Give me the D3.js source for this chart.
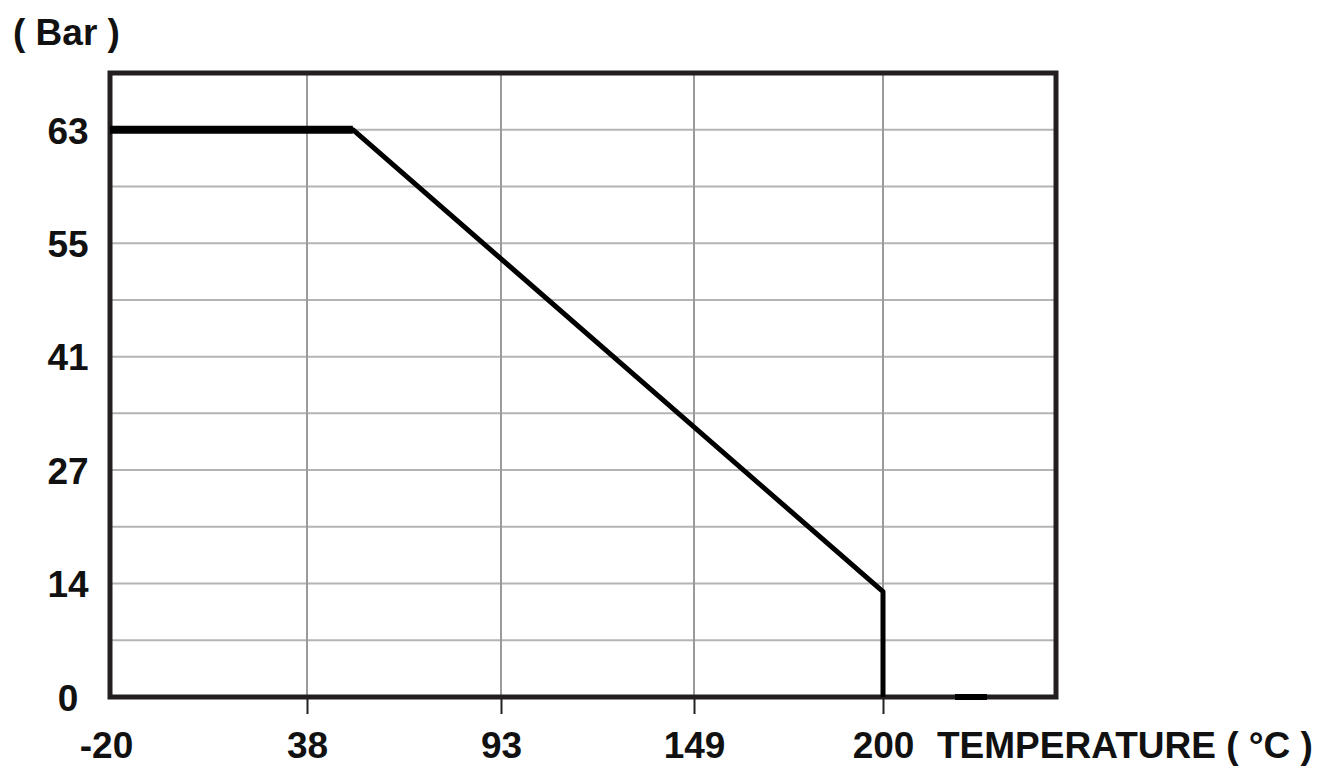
<!DOCTYPE html>
<svg width="1326" height="766"></svg>
<script src="https://d3js.org/d3.v7.min.js"></script>
<style>
    body {
        margin: 0;
        background: #fff;
    }

    text {
        font-family: "Liberation Sans", Arial, sans-serif;
        font-weight: bold;
        font-size: 37px;
        fill: #111;
    }
</style>
<script>
    // tick values (axes are evenly spaced per tick, not linear)
    var xTicks = [-20, 38, 93, 149, 200];
    var yTicks = [0, 14, 27, 41, 55, 63];

    // pressure / temperature rating curve
    var temps = [-20, 51, 200, 200];
    var pressures = [63, 63, 13, 0];

    var svg = d3.select("svg"),
        margin = { top: 73, left: 110 },
        width = 946,
        height = 624,
        g = svg.append("g").attr("transform", "translate(" + margin.left + "," + margin.top + ")");

    var x = d3.scaleLinear()
        .domain(xTicks)
        .range([0, 197, 391, 584, 773]);

    var yStep = height / 11;
    var y = d3.scaleLinear()
        .domain(yTicks)
        .range(yTicks.map(function (d, i) { return height - i * 2 * yStep; }));

    // horizontal grid: every tick plus half steps
    var gridY = [];
    for (var i = 1; i < 11; i++) gridY.push(height - i * yStep);
    g.selectAll(".hgrid").data(gridY).enter().append("line")
        .attr("x1", 0).attr("x2", width)
        .attr("y1", function (d) { return d; })
        .attr("y2", function (d) { return d; })
        .attr("stroke", "#b4b4b4")
        .attr("stroke-width", 2);

    g.selectAll(".vgrid").data(xTicks.slice(1)).enter().append("line")
        .attr("x1", function (d) { return x(d); })
        .attr("x2", function (d) { return x(d); })
        .attr("y1", 0).attr("y2", height)
        .attr("stroke", "#9a9a9a")
        .attr("stroke-width", 2);

    // x axis
    var xAxis = g.append("g")
        .attr("transform", "translate(0," + height + ")")
        .call(d3.axisBottom(x).tickValues(xTicks).tickSize(17).tickPadding(18).tickFormat(function (d) { return String(d); }));
    xAxis.select(".domain").remove();
    xAxis.selectAll("line").attr("stroke", "#222").attr("stroke-width", 2);
    xAxis.selectAll(".tick").filter(function (d) { return d == -20; }).select("line").remove();
    xAxis.selectAll("text").attr("fill", "#111").attr("font-size", null).attr("font-family", null);
    xAxis.selectAll(".tick").filter(function (d) { return d == -20; }).select("text").attr("dx", "-4");

    // y axis
    var yAxis = g.append("g")
        .attr("transform", "translate(" + (68 - margin.left) + ",0)")
        .call(d3.axisLeft(y).tickValues(yTicks).tickSize(0).tickPadding(0));
    yAxis.select(".domain").remove();
    yAxis.selectAll("text").attr("text-anchor", "middle").attr("fill", "#111")
        .attr("font-size", null).attr("font-family", null).attr("dy", "0.36em");

    // frame
    g.append("rect")
        .attr("width", width).attr("height", height)
        .attr("fill", "none")
        .attr("stroke", "#231f20")
        .attr("stroke-width", 5);
    // small darker patch on the bottom edge
    g.append("line")
        .attr("x1", 845).attr("x2", 877)
        .attr("y1", height).attr("y2", height)
        .attr("stroke", "#000")
        .attr("stroke-width", 6);

    // curve
    var pts = temps.map(function (t, i) { return [t, pressures[i]]; });
    var line = d3.line()
        .x(function (d) { return x(d[0]); })
        .y(function (d) { return y(d[1]); });

    g.append("path")
        .datum(pts)
        .attr("d", line)
        .attr("fill", "none")
        .attr("stroke", "#000")
        .attr("stroke-width", 5)
        .attr("stroke-linejoin", "round");

    // heavier flat top section
    g.append("path")
        .datum(pts.slice(0, 2))
        .attr("d", line)
        .attr("fill", "none")
        .attr("stroke", "#000")
        .attr("stroke-width", 8);

    svg.append("text").attr("x", 13).attr("y", 45).text("( Bar )");
    svg.append("text").attr("x", 937).attr("y", 758).text("TEMPERATURE ( °C )");
</script>
